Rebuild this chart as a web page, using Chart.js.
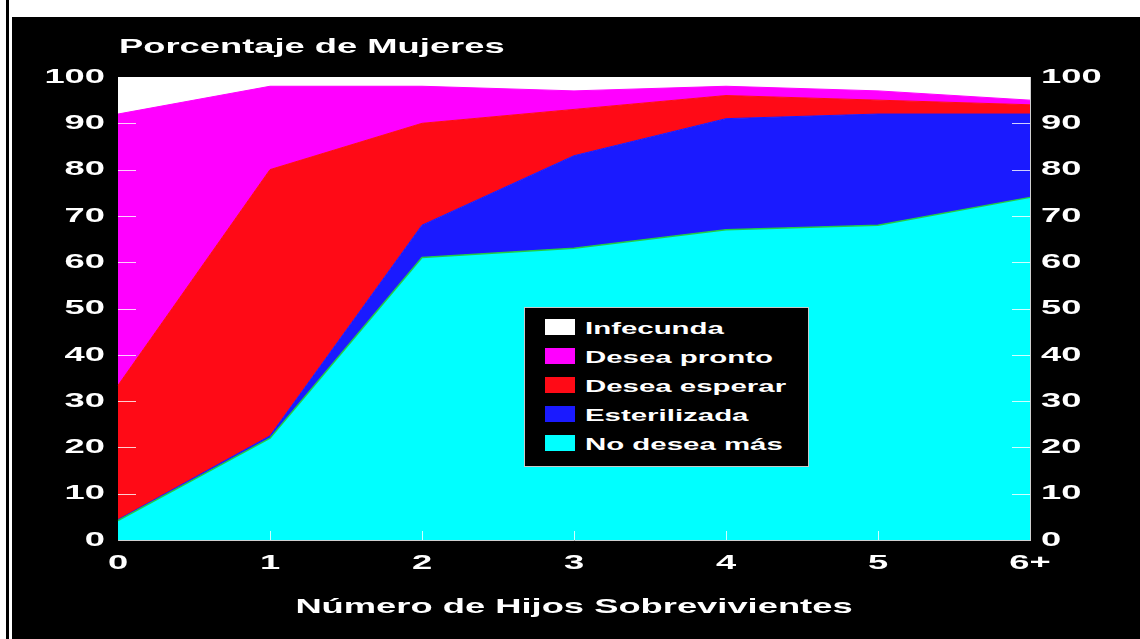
<!DOCTYPE html>
<html>
<head>
<meta charset="utf-8">
<title>Porcentaje de Mujeres</title>
<script src="https://cdn.jsdelivr.net/npm/chart.js@4.4.1/dist/chart.umd.min.js"></script>
<style>
  body { margin: 0; background: #fff; }
  #wrap { position: relative; width: 1140px; height: 639px; }
  #legend {
    position: absolute; left: 524px; top: 307px; width: 285px; height: 160px;
    background: #000; border: 1px solid #c8c8c8; box-sizing: border-box;
  }
  .row { position: absolute; left: 20px; height: 16px; }
  .sw { position: absolute; left: 0; top: 0; width: 30px; height: 16px; }
  .lab {
    position: absolute; left: 40px; top: -1px; white-space: nowrap;
    font: bold 17px "Liberation Sans", Arial, sans-serif; line-height: 22px; color: #fff;
    transform: scaleX(1.73); transform-origin: 0 50%;
  }
</style>
</head>
<body>
<div id="wrap">
  <canvas id="chart" width="1140" height="639" style="width:1140px;height:639px"></canvas>
  <div id="legend"></div>
</div>
<script>
// data (percent of women, stacked to 100)
var categories   = ['0', '1', '2', '3', '4', '5', '6+'];
var noDeseaMas   = [4.2, 22, 61, 63, 67, 68, 74];
var esterilizada = [0.2, 0.5, 7, 20, 24, 24, 18];
var deseaEsperar = [29, 57.5, 22, 10, 5, 3, 2];
var deseaPronto  = [58.6, 18, 8, 4, 2, 2, 1];
var infecunda    = [8, 2, 2, 3, 2, 3, 5];

var chartTitle = 'Porcentaje de Mujeres';
var xTitle = 'Número de Hijos Sobrevivientes';

var FONT = '"Liberation Sans", Arial, sans-serif';
var STRETCH = 1.73; // the original lettering is very wide

var canvas = document.getElementById('chart');
var ctx = canvas.getContext('2d');

// draw all canvas text stretched horizontally around its anchor
var plainFillText = ctx.fillText;
ctx.fillText = function (text, x, y) {
  this.save();
  this.translate(x, y);
  this.scale(STRETCH, 1);
  plainFillText.call(this, text, 0, 0);
  this.restore();
};

var frame = {
  id: 'frame',
  beforeDraw: function (chart) {
    var c = chart.ctx;
    var a = chart.chartArea;
    c.save();
    c.fillStyle = '#ffffff';
    c.fillRect(0, 0, chart.width, chart.height);
    c.fillStyle = '#000000';
    c.fillRect(12, 17, chart.width - 12, chart.height - 17);
    c.fillRect(6, 0, 3, chart.height);
    c.fillStyle = '#ffffff';
    c.fillRect(a.left, a.top, a.right - a.left, a.bottom - a.top);
    c.font = 'bold 21px ' + FONT;
    c.textAlign = 'left';
    c.textBaseline = 'alphabetic';
    c.fillText(chartTitle, a.left + 1, 53);
    c.restore();
  }
};

// short tick marks pointing into the plot
var innerTicks = {
  id: 'innerTicks',
  afterDraw: function (chart) {
    var c = chart.ctx;
    var a = chart.chartArea;
    var y = chart.scales.y;
    var x = chart.scales.x;
    c.save();
    c.strokeStyle = 'rgba(255,255,255,0.8)';
    c.lineWidth = 1;
    c.beginPath();
    y.ticks.forEach(function (t) {
      if (t.value <= 0 || t.value >= 100) return;
      var py = Math.round(y.getPixelForValue(t.value)) + 0.5;
      c.moveTo(a.left, py);
      c.lineTo(a.left + 18, py);
      c.moveTo(a.right - 18, py);
      c.lineTo(a.right, py);
    });
    categories.forEach(function (cat, i) {
      if (i === 0 || i === categories.length - 1) return;
      var px = Math.round(x.getPixelForValue(i)) + 0.5;
      c.moveTo(px, a.bottom);
      c.lineTo(px, a.bottom - 9);
    });
    c.stroke();
    c.restore();
  }
};

var tickFont = { family: FONT, size: 21, weight: 'bold' };

var myChart = new Chart(ctx, {
  type: 'line',
  data: {
    labels: categories,
    datasets: [
      { label: 'No desea más', data: noDeseaMas, backgroundColor: '#00ffff', borderColor: '#22cc44', borderWidth: 1.5, fill: 'origin' },
      { label: 'Esterilizada', data: esterilizada, backgroundColor: '#1a1aff', borderColor: '#1a1aff', borderWidth: 1, fill: '-1' },
      { label: 'Desea esperar', data: deseaEsperar, backgroundColor: '#ff0a16', borderColor: '#ff0a16', borderWidth: 1, fill: '-1' },
      { label: 'Desea pronto', data: deseaPronto, backgroundColor: '#ff00ff', borderColor: '#ff00ff', borderWidth: 1, fill: '-1' },
      { label: 'Infecunda', data: infecunda, backgroundColor: '#ffffff', borderColor: '#ffffff', borderWidth: 1, fill: '-1' }
    ]
  },
  options: {
    responsive: false,
    animation: false,
    layout: { padding: { top: 77, left: 0, right: 0, bottom: 0 } },
    elements: { point: { radius: 0 }, line: { tension: 0 } },
    plugins: {
      legend: { display: false },
      tooltip: { enabled: false },
      title: { display: false }
    },
    scales: {
      x: {
        offset: false,
        z: 1,
        grid: { display: false, drawTicks: false },
        border: { display: true, color: '#d0d0d0', width: 1 },
        ticks: { color: '#ffffff', font: tickFont, padding: 11, maxRotation: 0, autoSkip: false },
        title: { display: true, text: xTitle, color: '#ffffff', font: tickFont, padding: { top: 0, bottom: 19 } },
        afterFit: function (s) { s.height = 99; }
      },
      y: {
        stacked: true,
        min: 0,
        max: 100,
        z: 1,
        grid: { display: false, drawTicks: false },
        border: { display: true, color: '#c0c0c0', width: 1 },
        ticks: { stepSize: 10, color: '#ffffff', font: tickFont, padding: 13 },
        afterFit: function (s) { s.width = 118; }
      },
      y2: {
        position: 'right',
        display: true,
        min: 0,
        max: 100,
        z: 1,
        grid: { display: false, drawTicks: false },
        border: { display: true, color: '#d0d0d0', width: 1 },
        ticks: { stepSize: 10, color: '#ffffff', font: tickFont, padding: 11 },
        afterFit: function (s) { s.width = 110; }
      }
    }
  },
  plugins: [frame, innerTicks]
});

// legend box inside the plot, top row = top band of the stack
var legendEl = document.getElementById('legend');
myChart.data.datasets.slice().reverse().forEach(function (ds, i) {
  var row = document.createElement('div');
  row.className = 'row';
  row.style.top = (11 + i * 29) + 'px';
  var sw = document.createElement('div');
  sw.className = 'sw';
  sw.style.background = ds.backgroundColor;
  var lab = document.createElement('div');
  lab.className = 'lab';
  lab.textContent = ds.label;
  row.appendChild(sw);
  row.appendChild(lab);
  legendEl.appendChild(row);
});
</script>
</body>
</html>
